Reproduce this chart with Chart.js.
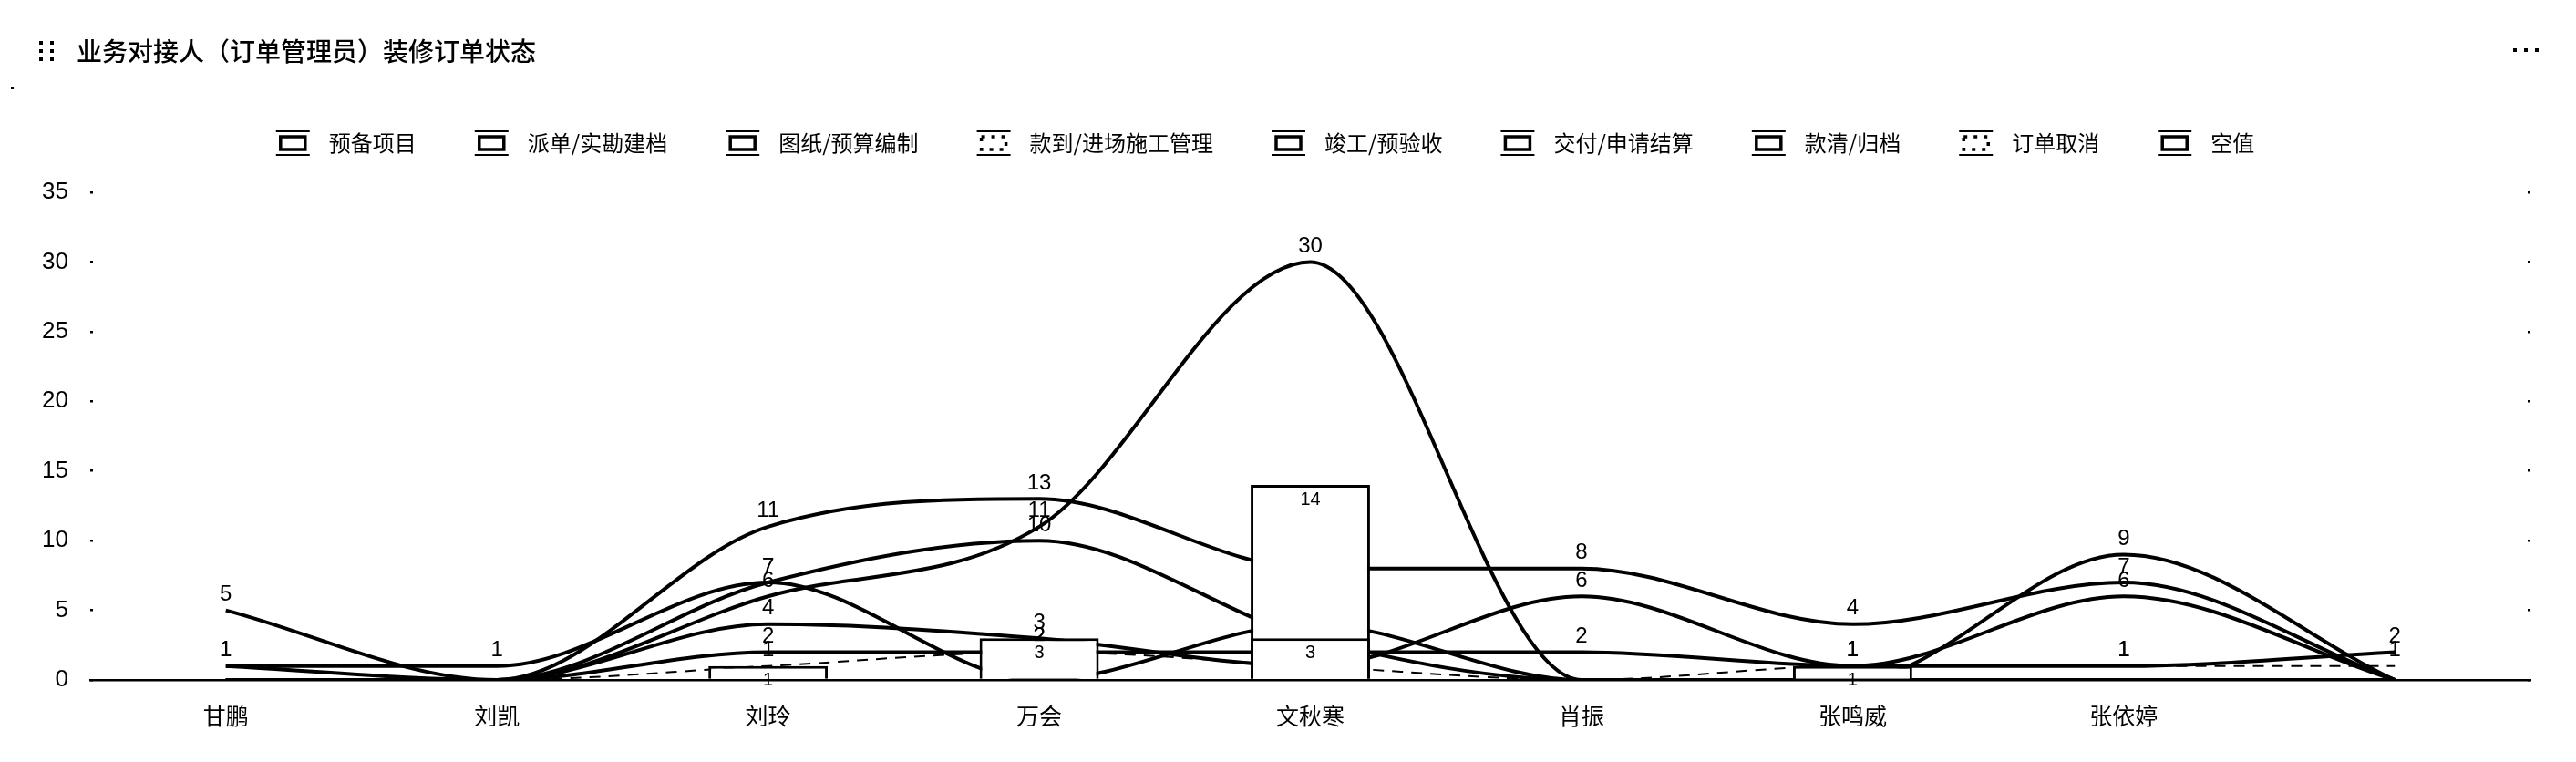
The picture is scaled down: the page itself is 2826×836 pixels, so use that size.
<!DOCTYPE html>
<html lang="zh-CN">
<head>
<meta charset="UTF-8">
<title>业务对接人（订单管理员）装修订单状态</title>
<script src="https://cdn.jsdelivr.net/npm/chart.js@4.4.1/dist/chart.umd.min.js"></script>
<style>
  html, body { margin: 0; padding: 0; background: #fff; }
  body { width: 2826px; height: 836px; position: relative; overflow: hidden; font-family: "Noto Sans CJK SC", sans-serif; color: #000; }
  #wrap { position: absolute; left: 0; top: 0; width: 2826px; height: 836px; }
  .drag { position: absolute; left: 43px; top: 45px; display: grid; grid-template-columns: 4px 4px; column-gap: 8px; row-gap: 5px; z-index: 2; }
  .drag i { display: block; width: 4px; height: 4px; background: #000; }
  .title { position: absolute; left: 84px; top: 35px; font-size: 28px; line-height: 40px; font-weight: 500; z-index: 2; }
  .more { position: absolute; left: 2757px; top: 53px; display: flex; gap: 8px; z-index: 2; }
  .more i { display: block; width: 4px; height: 4px; background: #000; }
  .mark { position: absolute; left: 12px; top: 95px; width: 3px; height: 3px; background: #000; }
</style>
</head>
<body>
<div class="drag"><i></i><i></i><i></i><i></i><i></i><i></i></div>
<div class="title">业务对接人（订单管理员）装修订单状态</div>
<div class="more"><i></i><i></i><i></i></div>
<div class="mark"></div>
<div id="wrap"><canvas id="chart"></canvas></div>

<script>
// categories (the last person has no name)
const categories = ['甘鹏', '刘凯', '刘玲', '万会', '文秋寒', '肖振', '张鸣威', '张依婷', ''];

// order status series
const prepData     = [5, 0, 11, 13, 8, 8, 4, 7, 0];   // 预备项目
const dispatchData = [0, 0, 6, 11, 30, 0, 0, 9, 0];   // 派单/实勘建档
const drawingData  = [1, 1, 7, 0, 4, 0, 0, 0, 0];     // 图纸/预算编制
const paidData     = [0, 0, 1, 2, 1, 0, 1, 1, 1];     // 款到/进场施工管理
const finishData   = [0, 0, 0, 0, 14, 0, 0, 0, 0];    // 竣工/预验收
const deliverData  = [0, 0, 7, 10, 3, 0, 0, 0, 0];    // 交付/申请结算
const settledData  = [1, 0, 4, 3, 1, 6, 1, 6, 0];     // 款清/归档
const cancelData   = [0, 0, 1, 3, 3, 0, 1, 0, 0];     // 订单取消
const emptyData    = [0, 0, 2, 2, 2, 2, 1, 1, 2];     // 空值

// y axis
const yMax = 35;
const yStep = 5;

function lineSet(label, data, dashed) {
  return {
    type: 'line',
    label: label,
    data: data,
    borderColor: '#000',
    backgroundColor: '#fff',
    borderWidth: dashed ? 2 : 4,
    borderDash: dashed ? [12, 9] : [],
    cubicInterpolationMode: 'monotone',
    pointRadius: 0,
    pointHoverRadius: 0,
    fill: false,
    order: 3
  };
}

function barSet(label, data, order, dashed) {
  return {
    type: 'bar',
    label: label,
    data: data,
    borderColor: '#000',
    backgroundColor: '#fff',
    borderWidth: 3,
    borderDash: dashed ? [4, 6] : [],
    grouped: false,
    categoryPercentage: 0.8,
    barPercentage: 0.55,
    order: order
  };
}

// value labels above points / inside bar tops
const valueLabels = {
  id: 'valueLabels',
  afterDatasetDraw(chart, args) {
    const meta = args.meta;
    const ds = chart.data.datasets[args.index];
    const ctx = chart.ctx;
    ctx.save();
    ctx.fillStyle = '#000';
    ctx.textAlign = 'center';
    meta.data.forEach((el, i) => {
      const v = ds.data[i];
      if (!v) return;
      if (meta.type === 'bar') {
        ctx.font = '20px "Liberation Sans", sans-serif';
        ctx.textBaseline = 'top';
        ctx.fillText(String(v), el.x, el.y + 6);
      } else {
        ctx.font = '24px "Liberation Sans", sans-serif';
        ctx.textBaseline = 'bottom';
        ctx.fillText(String(v), el.x, el.y - 5);
      }
    });
    ctx.restore();
  }
};

// legend icon: small box with a rule above and below
const legendIcons = {
  id: 'legendIcons',
  beforeInit(chart) {
    const lg = chart.legend;
    if (!lg) return;
    const fit = lg.fit;
    lg.fit = function () { fit.call(this); this.height += 32; };
  },
  afterDraw(chart) {
    const lg = chart.legend;
    if (!lg || !lg.legendHitBoxes) return;
    const ctx = chart.ctx;
    lg.legendHitBoxes.forEach((hb, i) => {
      const item = lg.legendItems[i];
      const ds = chart.data.datasets[item.datasetIndex];
      const cy = hb.top + hb.height / 2;
      const x0 = hb.left;
      ctx.save();
      ctx.strokeStyle = '#000';
      ctx.lineWidth = 2;
      ctx.beginPath();
      ctx.moveTo(x0, cy - 13); ctx.lineTo(x0 + 37, cy - 13);
      ctx.moveTo(x0, cy + 13); ctx.lineTo(x0 + 37, cy + 13);
      ctx.stroke();
      ctx.lineWidth = 3.5;
      ctx.setLineDash(ds.borderDash && ds.borderDash.length ? [4, 7] : []);
      ctx.strokeRect(x0 + 5, cy - 7, 27, 14);
      ctx.restore();
    });
  }
};

new Chart(document.getElementById('chart'), {
  type: 'bar',
  data: {
    labels: categories,
    datasets: [
      lineSet('预备项目', prepData, false),
      lineSet('派单/实勘建档', dispatchData, false),
      lineSet('图纸/预算编制', drawingData, false),
      lineSet('款到/进场施工管理', paidData, true),
      barSet('竣工/预验收', finishData, 2, false),
      lineSet('交付/申请结算', deliverData, false),
      lineSet('款清/归档', settledData, false),
      barSet('订单取消', cancelData, 1, true),
      lineSet('空值', emptyData, false)
    ]
  },
  options: {
    responsive: true,
    maintainAspectRatio: false,
    animation: false,
    layout: { padding: { top: 81, right: 50, bottom: 12, left: 0 } },
    plugins: {
      tooltip: { enabled: false },
      legend: {
        position: 'top',
        align: 'center',
        labels: {
          color: '#000',
          font: { size: 24, family: '"Noto Sans CJK SC", sans-serif' },
          boxWidth: 46,
          boxHeight: 16,
          padding: 64,
          sort: (a, b) => a.datasetIndex - b.datasetIndex,
          generateLabels(chart) {
            const items = Chart.defaults.plugins.legend.labels.generateLabels(chart);
            items.forEach(it => {
              it.fillStyle = 'rgba(0,0,0,0)';
              it.strokeStyle = 'rgba(0,0,0,0)';
              it.lineWidth = 0;
            });
            return items;
          }
        }
      }
    },
    scales: {
      x: {
        offset: true,
        grid: { display: false, drawTicks: false },
        border: { display: true, color: '#000', width: 2.5 },
        ticks: {
          color: '#000',
          padding: 24,
          font: { size: 25, family: '"Noto Sans CJK SC", sans-serif' }
        }
      },
      y: {
        min: 0,
        max: yMax,
        afterFit(scale) { scale.width = 99; },
        grid: { display: true, drawTicks: false, color: '#000', lineWidth: 2.5 },
        border: {
          display: false,
          dash: (c) => {
            const a = c.chart.chartArea;
            const w = a ? a.right - a.left : 2677;
            return [3, w - 6, 3, 1000];
          }
        },
        ticks: {
          stepSize: yStep,
          color: '#000',
          padding: 24,
          font: { size: 26, family: '"Liberation Sans", sans-serif' }
        }
      }
    }
  },
  plugins: [valueLabels, legendIcons]
});
</script>
</body>
</html>
